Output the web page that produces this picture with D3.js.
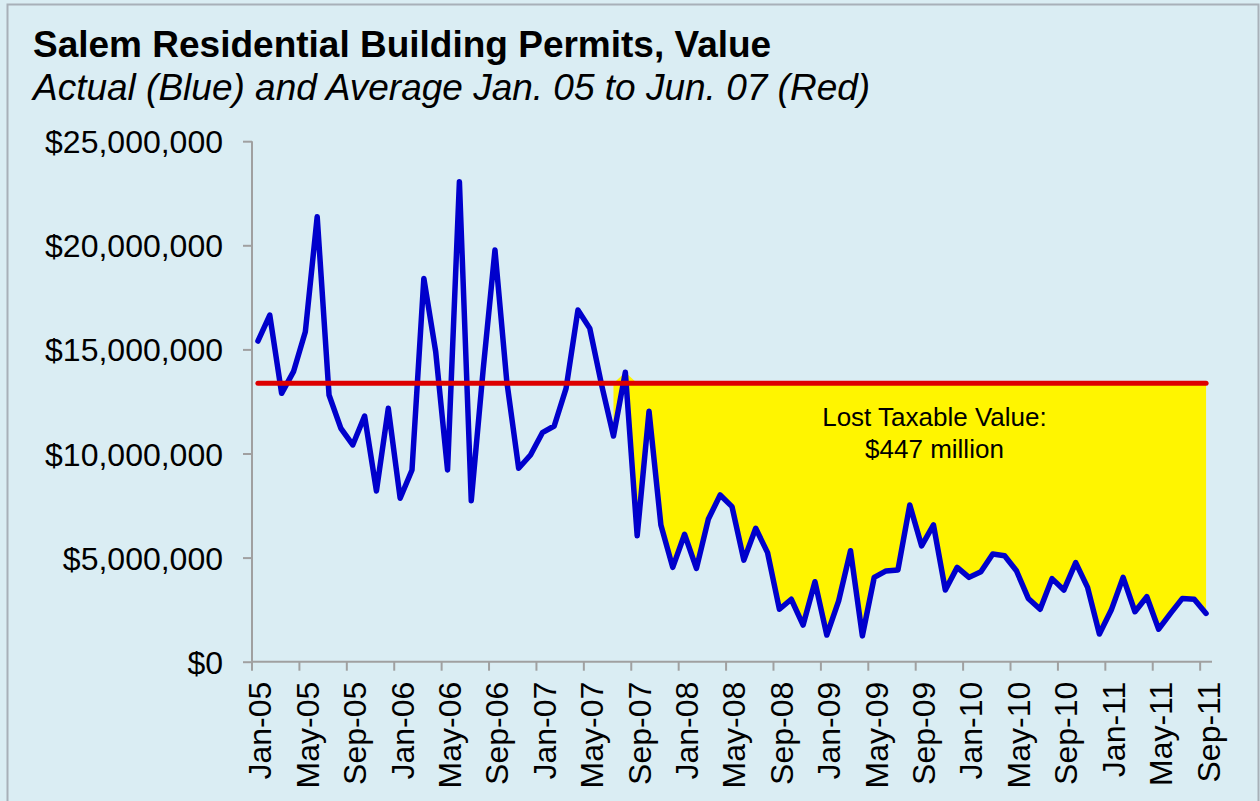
<!DOCTYPE html>
<html>
<head>
<meta charset="utf-8">
<script src="https://cdn.jsdelivr.net/npm/d3@7"></script>
<style>
  html, body { margin: 0; padding: 0; background: #DAEDF3; }
  svg { display: block; font-family: Arial, "Liberation Sans", sans-serif; }
</style>
</head>
<body>
<svg id="chart" width="1260" height="801"></svg>
<script>
// ---------------- DATA ----------------
const months = [
  "Jan-05","Feb-05","Mar-05","Apr-05","May-05","Jun-05","Jul-05","Aug-05","Sep-05","Oct-05","Nov-05","Dec-05",
  "Jan-06","Feb-06","Mar-06","Apr-06","May-06","Jun-06","Jul-06","Aug-06","Sep-06","Oct-06","Nov-06","Dec-06",
  "Jan-07","Feb-07","Mar-07","Apr-07","May-07","Jun-07","Jul-07","Aug-07","Sep-07","Oct-07","Nov-07","Dec-07",
  "Jan-08","Feb-08","Mar-08","Apr-08","May-08","Jun-08","Jul-08","Aug-08","Sep-08","Oct-08","Nov-08","Dec-08",
  "Jan-09","Feb-09","Mar-09","Apr-09","May-09","Jun-09","Jul-09","Aug-09","Sep-09","Oct-09","Nov-09","Dec-09",
  "Jan-10","Feb-10","Mar-10","Apr-10","May-10","Jun-10","Jul-10","Aug-10","Sep-10","Oct-10","Nov-10","Dec-10",
  "Jan-11","Feb-11","Mar-11","Apr-11","May-11","Jun-11","Jul-11","Aug-11","Sep-11"
];

// Actual monthly permit value (USD)
const actualValues = [
  15400000,16650000,12890000,13930000,15850000,21370000,12810000,11210000,10410000,11800000,8200000,12170000,
  7850000,9210000,18410000,14890000,9210000,23050000,7730000,14000000,19770000,13450000,9290000,9930000,
  11000000,11320000,13130000,16890000,16010000,13290000,10840000,13900000,6050000,12030000,6570000,4530000,
  6120000,4480000,6840000,8010000,7450000,4880000,6410000,5240000,2520000,3000000,1760000,3840000,
  1280000,2920000,5330000,1240000,4050000,4360000,4400000,7530000,5560000,6570000,3440000,4530000,
  4050000,4320000,5170000,5090000,4370000,3040000,2520000,3990000,3440000,4760000,3570000,1330000,
  2480000,4050000,2400000,3120000,1560000,2320000,3040000,3000000,2320000
];

// Average Jan. 05 to Jun. 07 (USD)
const averageValue = 13370000;

// Lost-value shading starts at this month
const shadeStart = "Jul-07";

const yTicks = [0, 5000000, 10000000, 15000000, 20000000, 25000000];
const xTickLabels = ["Jan-05","May-05","Sep-05","Jan-06","May-06","Sep-06","Jan-07","May-07","Sep-07",
  "Jan-08","May-08","Sep-08","Jan-09","May-09","Sep-09","Jan-10","May-10","Sep-10","Jan-11","May-11","Sep-11"];

const titleText = "Salem Residential Building Permits, Value";
const subtitleText = "Actual (Blue) and Average Jan. 05 to Jun. 07 (Red)";
const noteLines = ["Lost Taxable Value:", "$447 million"];

// ---------------- CHART ----------------
const svg = d3.select("#chart");
const W = 1260, H = 801;
const plot = { left: 252, right: 1212, top: 141.2, bottom: 661.7 };

svg.append("rect").attr("x", 0).attr("y", 0).attr("width", W).attr("height", H).attr("fill", "#DAEDF3");
svg.append("rect").attr("x", 7.5).attr("y", 4.5).attr("width", W - 9).attr("height", H + 10)
  .attr("fill", "none").attr("stroke", "#A8B0B8").attr("stroke-width", 2);

const x = d3.scaleBand().domain(months).range([plot.left, plot.right]).paddingInner(0).paddingOuter(0);
const xc = m => x(m) + x.bandwidth() / 2;
const y = d3.scaleLinear().domain([0, 25000000]).range([plot.bottom, plot.top]);

const data = months.map((m, i) => ({ m, v: actualValues[i] }));

// Title
svg.append("text").attr("x", 33).attr("y", 57)
  .attr("font-size", 37).attr("font-weight", "bold").attr("fill", "#000").text(titleText);
svg.append("text").attr("x", 33).attr("y", 100)
  .attr("font-size", 37).attr("font-style", "italic").attr("fill", "#000").text(subtitleText);

// Yellow area (lost value)
const startIdx = months.indexOf(shadeStart);
const shadeData = data.slice(startIdx);
const area = d3.area()
  .x(d => xc(d.m))
  .y0(d => y(d.v))
  .y1(d => y(Math.max(averageValue, d.v)));
svg.append("path").datum(shadeData).attr("d", area).attr("fill", "#FFF500");

// Axes
const axisColor = "#A0A0A0";
const yAxis = d3.axisLeft(y).tickValues(yTicks).tickSize(9).tickFormat(d3.format("$,.0f"));
const gy = svg.append("g").attr("transform", `translate(${plot.left},0)`).call(yAxis);
gy.select(".domain").attr("stroke", axisColor).attr("stroke-width", 2).attr("d", `M0,${plot.top}V${plot.bottom}`);
gy.selectAll(".tick line").attr("stroke", axisColor).attr("stroke-width", 2);
gy.selectAll(".tick text").attr("font-size", 32).attr("font-family", "Arial, 'Liberation Sans', sans-serif")
  .attr("fill", "#000").attr("x", -29).attr("dy", "0.36em");

// X axis: ticks at category boundaries every 4 months, labels at category centres
const gx = svg.append("g").attr("transform", `translate(0,${plot.bottom})`);
gx.append("line").attr("x1", plot.left).attr("x2", plot.right).attr("y1", 0).attr("y2", 0)
  .attr("stroke", axisColor).attr("stroke-width", 2);
gx.selectAll("line.tick").data(xTickLabels).enter().append("line").attr("class", "tick")
  .attr("x1", d => x(d)).attr("x2", d => x(d)).attr("y1", 0).attr("y2", 9)
  .attr("stroke", axisColor).attr("stroke-width", 2);
gx.selectAll("text.lbl").data(xTickLabels).enter().append("text").attr("class", "lbl")
  .attr("transform", d => `translate(${xc(d)},20) rotate(-90)`)
  .attr("text-anchor", "end").attr("dy", "0.42em")
  .attr("font-size", 32).attr("fill", "#000").text(d => d);

// Blue actual line
const line = d3.line().x(d => xc(d.m)).y(d => y(d.v));
svg.append("path").datum(data).attr("d", line).attr("fill", "none")
  .attr("stroke", "#0000CC").attr("stroke-width", 5.5).attr("stroke-linejoin", "round").attr("stroke-linecap", "round");

// Red average line
svg.append("line")
  .attr("x1", xc(months[0])).attr("x2", xc(months[months.length - 1]))
  .attr("y1", y(averageValue)).attr("y2", y(averageValue))
  .attr("stroke", "#DD0000").attr("stroke-width", 5).attr("stroke-linecap", "round");

// Annotation
const noteX = xc("Oct-09") + 1;
const noteY = y(averageValue) + 43;
svg.append("text").attr("x", noteX).attr("y", noteY).attr("text-anchor", "middle")
  .attr("font-size", 26).attr("fill", "#000").text(noteLines[0]);
svg.append("text").attr("x", noteX).attr("y", noteY + 32).attr("text-anchor", "middle")
  .attr("font-size", 26).attr("fill", "#000").text(noteLines[1]);
</script>
</body>
</html>
